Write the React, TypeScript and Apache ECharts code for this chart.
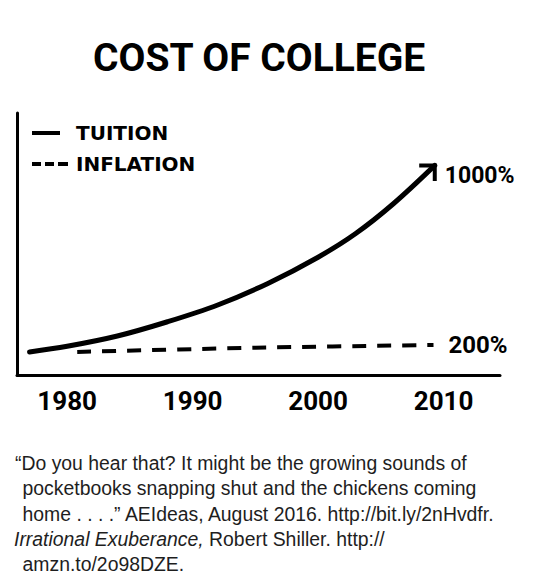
import React, { useEffect, useRef } from "react";
import * as echarts from "echarts";

// ---- data ----
const seriesNames = ["TUITION", "INFLATION"];
const tuitionYears = [1977, 1980, 1984, 1988, 1992, 1996, 2000, 2003, 2006, 2009.3];
const tuitionValues = [110, 137, 186, 254, 334, 437, 562, 675, 817, 1000];
const inflationYears = [1980.8, 1995, 2009.2];
const inflationValues = [110, 130, 143];
const endLabelTexts = ["1000%", "200%"];
const xTickValues = [1980, 1990, 2000, 2010];
const titleText = "COST OF COLLEGE";
const captionLines = [
  "“Do you hear that? It might be the growing sounds of",
  "pocketbooks snapping shut and the chickens coming",
  "home . . . .” AEIdeas, August 2016. http://bit.ly/2nHvdfr.",
  "{i|Irrational Exuberance,} Robert Shiller. http://",
  "amzn.to/2o98DZE.",
];

const HAND = "Roboto, 'DejaVu Sans Condensed', sans-serif";
const WIDE = "'DejaVu Sans', sans-serif";
const CAPTION = "'Liberation Sans', Arial, sans-serif";

const SOLID_ICON = "path://M0,0h28v4h-28z M36,0";
const DASH_ICON = "path://M0,0h9v4h-9z M13,0h9v4h-9z M26,0h10v4h-10z";

export default function App() {
  const ref = useRef<HTMLDivElement>(null);
  useEffect(() => {
    if (!ref.current) return;
    const chart = echarts.init(ref.current, undefined, { renderer: "svg" });

    const tuitionData: any[] = tuitionYears.map((y, i) => [y, tuitionValues[i]]);
    const last = tuitionData.length - 1;
    tuitionData[last] = {
      value: tuitionData[last],
      symbol: "path://M0,20 L10,10 L20,20 M10,0",
      symbolSize: 22,
      symbolRotate: -45,
      itemStyle: { color: "none", borderColor: "#000", borderWidth: 4 },
    };
    const inflationData = inflationYears.map((y, i) => [y, inflationValues[i]]);

    const captionX = [15, 22.5, 22.5, 14, 22.5];
    const captionY0 = 463;
    const captionStep = 25.25;

    chart.setOption({
      animation: false,
      backgroundColor: "#fff",
      title: {
        text: titleText,
        left: 93,
        top: 38,
        padding: 0,
        textStyle: {
          fontFamily: HAND,
          fontWeight: "bold",
          fontSize: 39,
          lineHeight: 40,
          color: "#000",
        },
      },
      legend: {
        orient: "vertical",
        left: 32,
        top: 123,
        padding: 0,
        itemWidth: 36,
        itemHeight: 4,
        itemGap: 11,
        selectedMode: false,
        itemStyle: { color: "#000", borderWidth: 0 },
        data: [
          { name: seriesNames[0], icon: SOLID_ICON },
          { name: seriesNames[1], icon: DASH_ICON },
        ],
        textStyle: {
          fontFamily: WIDE,
          fontWeight: "bold",
          fontSize: 20,
          lineHeight: 20,
          color: "#000",
          padding: [0, 0, 0, 3],
        },
      },
      grid: { left: 17, right: 39, top: 113, bottom: 205, containLabel: false },
      xAxis: {
        type: "value",
        min: 1976,
        max: 2014.5,
        axisLine: { show: true, lineStyle: { color: "#000", width: 3, cap: "round" } },
        axisTick: { show: false },
        splitLine: { show: false },
        axisLabel: {
          customValues: xTickValues,
          formatter: (v: number) => String(v),
          margin: 13,
          fontFamily: HAND,
          fontWeight: "bold",
          fontSize: 26,
          lineHeight: 26,
          color: "#000",
        },
      },
      yAxis: {
        type: "value",
        min: 0,
        max: 1250,
        axisLine: { show: true, lineStyle: { color: "#000", width: 3, cap: "round" } },
        axisTick: { show: false },
        axisLabel: { show: false },
        splitLine: { show: false },
      },
      series: [
        {
          name: seriesNames[1],
          type: "line",
          data: inflationData,
          symbol: "none",
          smooth: 0.3,
          z: 2,
          lineStyle: { color: "#000", width: 4, type: [14, 11] },
          itemStyle: { color: "#000" },
          endLabel: {
            show: true,
            formatter: endLabelTexts[1],
            distance: 15,
            fontFamily: HAND,
            fontWeight: "bold",
            fontSize: 24,
            color: "#000",
          },
        },
        {
          name: seriesNames[0],
          type: "line",
          data: tuitionData,
          symbol: "none",
          showSymbol: true,
          smooth: 0.35,
          z: 3,
          lineStyle: { color: "#000", width: 5, cap: "round" },
          itemStyle: { color: "#000" },
          endLabel: {
            show: true,
            formatter: endLabelTexts[0],
            distance: 10,
            offset: [0, 10],
            fontFamily: HAND,
            fontWeight: "bold",
            fontSize: 23,
            color: "#000",
          },
        },
      ],
      graphic: captionLines.map((line, i) => ({
        type: "text",
        x: captionX[i],
        y: captionY0 + i * captionStep,
        silent: true,
        style: {
          text: line,
          fontFamily: CAPTION,
          fontSize: 19.4,
          fill: "#1e1e1e",
          verticalAlign: "middle",
          rich: { i: { fontStyle: "italic", fontFamily: CAPTION, fontSize: 19.4, fill: "#1e1e1e" } },
        },
      })),
    });
    return () => chart.dispose();
  }, []);
  return (
    <div
      ref={ref}
      style={{ position: "fixed", left: 0, top: 0, width: 539, height: 580, background: "#fff" }}
    />
  );
}
